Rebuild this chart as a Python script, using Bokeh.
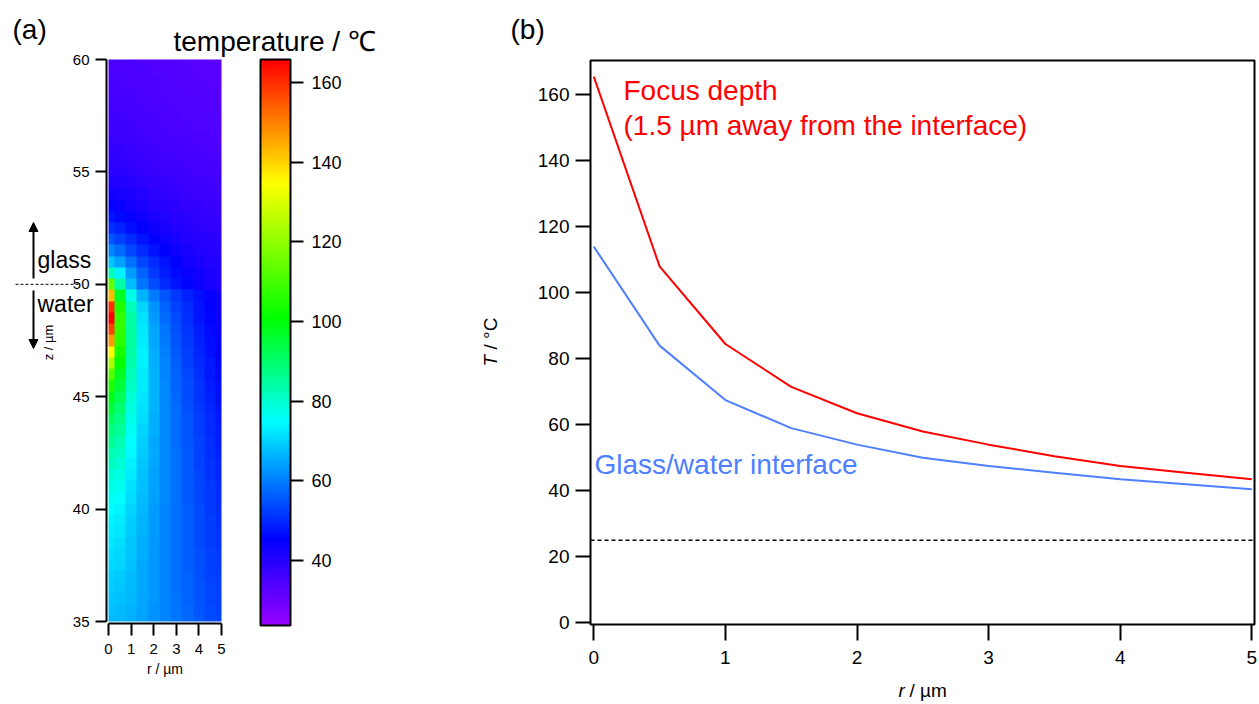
import colorsys
import math
import numpy as np
from bokeh.plotting import figure
from bokeh.models import (LinearColorMapper, FixedTicker, Label, Arrow, NormalHead,
                          Range1d, LinearAxis)
from bokeh.layouts import row
from bokeh.embed import file_html
from bokeh.resources import INLINE

FONT = "Liberation Sans"

# ---------------- data ----------------
# heat map: cell centres
r_um = [0.0, 0.5, 1.0, 1.5, 2.0, 2.5, 3.0, 3.5, 4.0, 4.5, 5.0]
z_um = [60.0, 59.5, 59.0, 58.5, 58.0, 57.5, 57.0, 56.5, 56.0, 55.5, 55.0,
        54.5, 54.0, 53.5, 53.0, 52.5, 52.0, 51.5, 51.0, 50.5, 50.0,
        49.5, 49.0, 48.5, 48.0, 47.5, 47.0, 46.5, 46.0, 45.5, 45.0,
        44.5, 44.0, 43.5, 43.0, 42.5, 42.0, 41.5, 41.0, 40.5, 40.0,
        39.5, 39.0, 38.5, 38.0, 37.5, 37.0, 36.5, 36.0, 35.5, 35.0]
# temperature (deg C), one row per z (top row z = 60), one column per r
temperature_map = [
    [34.5, 34.5, 34.5, 34.0, 34.0, 33.5, 33.5, 33.0, 33.0, 32.5, 32.5],
    [34.7, 34.7, 34.6, 34.3, 34.1, 33.8, 33.6, 33.3, 33.1, 32.8, 32.6],
    [35.0, 35.0, 34.8, 34.5, 34.3, 34.0, 33.8, 33.5, 33.3, 33.0, 32.8],
    [35.3, 35.2, 35.0, 34.8, 34.5, 34.2, 34.0, 33.7, 33.5, 33.2, 33.0],
    [35.7, 35.6, 35.4, 35.1, 34.8, 34.5, 34.2, 33.9, 33.7, 33.4, 33.2],
    [36.1, 36.0, 35.8, 35.5, 35.2, 34.8, 34.5, 34.2, 33.9, 33.7, 33.5],
    [36.6, 36.5, 36.2, 35.9, 35.5, 35.1, 34.8, 34.5, 34.2, 34.0, 33.8],
    [37.2, 37.0, 36.7, 36.3, 35.9, 35.5, 35.2, 34.9, 34.6, 34.4, 34.2],
    [37.9, 37.7, 37.3, 36.8, 36.3, 35.9, 35.6, 35.3, 35.0, 34.8, 34.6],
    [38.7, 38.5, 38.0, 37.4, 36.9, 36.4, 36.1, 35.7, 35.4, 35.2, 35.0],
    [39.7, 39.4, 38.8, 38.1, 37.5, 37.0, 36.6, 36.2, 35.9, 35.6, 35.4],
    [41.0, 40.6, 39.8, 39.0, 38.3, 37.7, 37.2, 36.8, 36.4, 36.1, 35.9],
    [42.6, 42.0, 41.0, 40.0, 39.2, 38.5, 37.9, 37.4, 37.0, 36.7, 36.4],
    [44.6, 43.8, 42.5, 41.3, 40.3, 39.4, 38.7, 38.1, 37.6, 37.3, 37.0],
    [47.2, 46.1, 44.4, 42.9, 41.6, 40.5, 39.6, 38.9, 38.3, 37.9, 37.6],
    [50.5, 49.0, 46.8, 44.9, 43.2, 41.8, 40.7, 39.8, 39.1, 38.6, 38.2],
    [54.8, 52.8, 49.8, 47.3, 45.1, 43.3, 41.9, 40.8, 39.9, 39.3, 38.8],
    [60.5, 57.6, 53.5, 50.2, 47.4, 45.1, 43.3, 41.9, 40.8, 40.0, 39.4],
    [68.5, 64.0, 58.2, 53.6, 50.0, 47.2, 44.9, 43.1, 41.8, 40.8, 40.0],
    [82.0, 73.5, 63.5, 56.8, 52.0, 48.6, 46.1, 44.2, 42.6, 41.4, 40.3],
    [114.0, 84.0, 67.5, 59.0, 54.0, 50.0, 47.5, 45.5, 43.5, 42.0, 40.5],
    [143.0, 97.0, 77.0, 66.0, 59.5, 55.0, 51.5, 48.8, 46.5, 44.6, 42.8],
    [160.0, 105.0, 82.5, 70.0, 62.5, 57.0, 53.0, 49.8, 47.2, 45.2, 43.3],
    [165.5, 108.0, 84.5, 71.5, 63.5, 58.0, 54.0, 50.5, 47.5, 45.5, 43.5],
    [158.0, 108.0, 85.0, 72.5, 64.3, 58.8, 54.6, 51.2, 48.2, 46.0, 44.0],
    [147.0, 106.5, 85.0, 73.0, 65.0, 59.5, 55.3, 51.8, 48.9, 46.5, 44.5],
    [135.0, 104.0, 84.5, 73.3, 65.5, 60.0, 55.8, 52.4, 49.5, 47.0, 45.0],
    [124.0, 101.0, 83.5, 73.3, 65.8, 60.4, 56.3, 52.9, 50.0, 47.6, 45.5],
    [113.0, 98.0, 82.3, 73.0, 66.0, 60.7, 56.7, 53.3, 50.5, 48.0, 46.0],
    [105.0, 95.0, 81.0, 72.6, 66.0, 61.0, 57.0, 53.8, 51.0, 48.5, 46.5],
    [99.0, 92.0, 79.7, 72.0, 66.0, 61.2, 57.4, 54.2, 51.4, 49.0, 47.0],
    [95.0, 89.5, 78.5, 71.5, 65.9, 61.3, 57.6, 54.5, 51.8, 49.4, 47.4],
    [91.5, 87.0, 77.3, 70.9, 65.7, 61.4, 57.8, 54.8, 52.2, 49.8, 47.8],
    [88.5, 85.0, 76.2, 70.3, 65.4, 61.4, 58.0, 55.0, 52.5, 50.2, 48.2],
    [86.0, 83.0, 75.2, 69.7, 65.1, 61.4, 58.1, 55.2, 52.7, 50.5, 48.6],
    [83.5, 81.0, 74.3, 69.1, 64.8, 61.3, 58.2, 55.4, 52.9, 50.8, 49.0],
    [81.5, 79.5, 73.4, 68.6, 64.5, 61.2, 58.2, 55.5, 53.1, 51.1, 49.3],
    [79.5, 78.0, 72.6, 68.1, 64.2, 61.1, 58.2, 55.6, 53.3, 51.3, 49.6],
    [78.0, 76.5, 71.8, 67.6, 63.9, 61.0, 58.2, 55.7, 53.5, 51.5, 49.9],
    [76.5, 75.3, 71.0, 67.1, 63.7, 60.9, 58.2, 55.8, 53.6, 51.7, 50.2],
    [75.0, 74.0, 70.3, 66.7, 63.5, 60.8, 58.2, 55.9, 53.8, 51.9, 50.5],
    [74.0, 73.0, 69.7, 66.3, 63.3, 60.7, 58.2, 56.0, 53.9, 52.1, 50.8],
    [73.0, 72.0, 69.1, 66.0, 63.2, 60.6, 58.2, 56.0, 54.0, 52.3, 51.0],
    [72.0, 71.2, 68.6, 65.7, 63.1, 60.6, 58.2, 56.1, 54.2, 52.5, 51.3],
    [71.2, 70.5, 68.2, 65.4, 63.0, 60.6, 58.3, 56.2, 54.3, 52.7, 51.6],
    [70.4, 69.8, 67.8, 65.2, 62.9, 60.6, 58.4, 56.3, 54.5, 52.9, 51.9],
    [69.7, 69.2, 67.4, 65.0, 62.8, 60.6, 58.5, 56.5, 54.7, 53.1, 52.2],
    [69.0, 68.6, 67.0, 64.8, 62.7, 60.6, 58.6, 56.7, 54.9, 53.3, 52.5],
    [68.4, 68.0, 66.6, 64.6, 62.6, 60.6, 58.7, 56.9, 55.1, 53.5, 52.8],
    [67.8, 67.4, 66.2, 64.4, 62.5, 60.6, 58.8, 57.1, 55.3, 53.8, 53.1],
    [67.2, 66.8, 65.8, 64.2, 62.4, 60.6, 58.9, 57.3, 55.5, 54.0, 53.4],
]
z_ticks = [35, 40, 45, 50, 55, 60]
r_ticks_a = [0, 1, 2, 3, 4, 5]
cb_ticks = [40, 60, 80, 100, 120, 140, 160]
T_low, T_high = 23.7, 165.8
interface_z = 50.0

# profiles (panel b)
r_profile = [0.0, 0.5, 1.0, 1.5, 2.0, 2.5, 3.0, 3.5, 4.0, 4.5, 5.0]
T_focus = [165.5, 108.0, 84.5, 71.5, 63.5, 58.0, 54.0, 50.5, 47.5, 45.5, 43.5]
T_interface = [114.0, 84.0, 67.5, 59.0, 54.0, 50.0, 47.5, 45.5, 43.5, 42.0, 40.5]
T_room = 25.0
T_ticks = [0, 20, 40, 60, 80, 100, 120, 140, 160]
r_ticks_b = [0, 1, 2, 3, 4, 5]

# ---------------- colour table (rainbow, red = hot) ----------------
hue_T = [T_low, 45.0, 75.0, 101.0, 135.0, T_high]
hue_deg = [275.0, 240.0, 180.0, 120.0, 60.0, 0.0]
palette = []
for i in range(256):
    t = T_low + (T_high - T_low) * i / 255.0
    h = float(np.interp(t, hue_T, hue_deg)) / 360.0
    rr, gg, bb = colorsys.hsv_to_rgb(h, 1.0, 1.0)
    palette.append("#%02x%02x%02x" % (round(rr * 255), round(gg * 255), round(bb * 255)))
mapper = LinearColorMapper(palette=palette, low=T_low, high=T_high)


def style_axis(ax, size):
    ax.axis_line_width = 2
    ax.axis_line_color = "black"
    ax.major_tick_line_width = 2
    ax.major_tick_line_color = "black"
    ax.major_tick_in = 0
    ax.minor_tick_line_color = None
    ax.major_label_text_font = FONT
    ax.major_label_text_font_size = size
    ax.major_label_text_color = "black"


def text(p, x, y, s, size, color="black", **kw):
    p.add_layout(Label(x=x, y=y, text=s, text_font=FONT, text_font_size=size,
                       text_color=color, text_baseline=kw.pop("baseline", "middle"),
                       text_align=kw.pop("align", "left"), **kw))


# ---------------- panel (a) ----------------
WA, H = 470, 704
FL, FT, FW, FH = 108, 59, 113, 562   # pixel box of the heat map
r0, r1 = min(r_ticks_a), max(r_ticks_a)
z0, z1 = min(z_ticks), max(z_ticks)


def ax_(px):
    return r0 + (px - FL) / FW * (r1 - r0)


def ay_(py):
    return z1 - (py - FT) / FH * (z1 - z0)


pa = figure(width=WA, height=H, x_range=Range1d(ax_(0), ax_(WA)),
            y_range=Range1d(ay_(H), ay_(0)),
            output_backend="svg", toolbar_location=None,
            x_axis_location=None, y_axis_location=None,
            min_border_left=0, min_border_right=0, min_border_top=0, min_border_bottom=0)
pa.outline_line_color = None
pa.grid.visible = False
pa.background_fill_color = "white"

# heat map (cells centred on the r/z grid, cut at the plot edges like the original)
arr = np.array(temperature_map)[::-1]          # bottom row first
up = 12
half = up // 2
arr_up = np.repeat(np.repeat(arr, up, axis=0), up, axis=1)[half:-half, half:-half]
pa.image(image=[arr_up], x=min(r_um), y=min(z_um), dw=max(r_um) - min(r_um),
         dh=max(z_um) - min(z_um), color_mapper=mapper)

ya = LinearAxis(fixed_location=ax_(106), bounds=(z0, z1), ticker=FixedTicker(ticks=z_ticks))
style_axis(ya, "15px")
ya.major_tick_out = 11
ya.major_label_standoff = 6
pa.add_layout(ya, "left")
xa = LinearAxis(fixed_location=ay_(623), bounds=(r0, r1), ticker=FixedTicker(ticks=r_ticks_a))
style_axis(xa, "15px")
xa.major_tick_out = 12
xa.major_label_standoff = 8
pa.add_layout(xa, "below")
text(pa, ax_(164.5), ay_(668), "r / µm", "14px", align="center")
text(pa, ax_(48), ay_(342), "z / µm", "13px", align="center", angle=math.pi / 2)

# colour bar drawn in its own value range
CB_L, CB_R, CB_T, CB_B = 260, 290, 59, 625
kcb = (T_high - T_low) / (CB_B - CB_T)
pa.extra_y_ranges = {"cb": Range1d(T_low - (H - CB_B) * kcb, T_high + CB_T * kcb)}
grad = np.repeat(np.linspace(T_low, T_high, 566).reshape(-1, 1), 30, axis=1)
pa.image(image=[grad], x=ax_(CB_L), y=T_low, dw=ax_(CB_R) - ax_(CB_L), dh=T_high - T_low,
         color_mapper=mapper, y_range_name="cb")
pa.quad(left=[ax_(CB_L)], right=[ax_(CB_R)], bottom=[T_low], top=[T_high],
        fill_color=None, line_color="black", line_width=2, y_range_name="cb")
cba = LinearAxis(y_range_name="cb", fixed_location=ax_(CB_R), bounds=(T_low, T_high),
                 ticker=FixedTicker(ticks=cb_ticks))
style_axis(cba, "18px")
cba.axis_line_color = None
cba.major_tick_out = 13
cba.major_label_standoff = 8
pa.add_layout(cba, "right")

text(pa, ax_(12), ay_(29), "(a)", "28px")
text(pa, ax_(173), ay_(41), "temperature / \u2103", "28px")
text(pa, ax_(37), ay_(259), "glass", "23px")
text(pa, ax_(37), ay_(303), "water", "23px")
pa.add_layout(Arrow(end=NormalHead(size=9, fill_color="black", line_color="black"),
                    x_start=ax_(33), y_start=ay_(278), x_end=ax_(33), y_end=ay_(222),
                    line_width=2, line_color="black"))
pa.add_layout(Arrow(end=NormalHead(size=9, fill_color="black", line_color="black"),
                    x_start=ax_(33), y_start=ay_(290), x_end=ax_(33), y_end=ay_(348),
                    line_width=2, line_color="black"))
pa.line([ax_(15), ax_(79)], [interface_z, interface_z], line_width=1,
        line_color="black", line_dash="3 2")

# ---------------- panel (b) ----------------
WB = 1259 - WA
BL, BT, BR, BB = 590, 60, 1254, 624     # page pixel box of the plot area
xb0, xb1 = -0.025, 5.02
yb0, yb1 = -0.5, 170.4


def bx(px):
    return xb0 + (px - BL) / (BR - BL) * (xb1 - xb0)


def by(py):
    return yb1 - (py - BT) / (BB - BT) * (yb1 - yb0)


pb = figure(width=WB, height=H, x_range=Range1d(bx(WA), bx(1259)),
            y_range=Range1d(by(H), by(0)),
            output_backend="svg", toolbar_location=None,
            x_axis_location=None, y_axis_location=None,
            min_border_left=0, min_border_right=0, min_border_top=0, min_border_bottom=0)
pb.grid.visible = False
pb.outline_line_color = None
pb.background_fill_color = "white"

pb.line(r_profile, T_focus, line_color="#ff0000", line_width=2)
pb.line(r_profile, T_interface, line_color="#4d7fff", line_width=2)
pb.line([xb0, xb1], [T_room, T_room], line_color="black", line_width=1.5, line_dash="4 3")
pb.quad(left=[xb0], right=[xb1], bottom=[yb0], top=[yb1], fill_color=None,
        line_color="black", line_width=2)

yb = LinearAxis(fixed_location=xb0, ticker=FixedTicker(ticks=T_ticks))
style_axis(yb, "19px")
yb.axis_line_color = None
yb.major_tick_out = 15
yb.major_label_standoff = 6
pb.add_layout(yb, "left")
xbx = LinearAxis(fixed_location=yb0, ticker=FixedTicker(ticks=r_ticks_b))
style_axis(xbx, "19px")
xbx.axis_line_color = None
xbx.major_tick_out = 16
xbx.major_label_standoff = 10
pb.add_layout(xbx, "below")

# axis titles with italic symbols
text(pb, bx(490), by(366), "T", "19px", angle=math.pi / 2, text_font_style="italic")
text(pb, bx(490), by(349), "/ °C", "19px", angle=math.pi / 2)
text(pb, bx(898), by(690), "r", "19px", text_font_style="italic")
text(pb, bx(909), by(690), "/ µm", "19px")

text(pb, bx(510), by(29), "(b)", "28px")
text(pb, bx(623), by(90), "Focus depth", "28px", color="#ff0000")
text(pb, bx(623), by(125), "(1.5 µm away from the interface)", "28px", color="#ff0000")
text(pb, bx(594), by(464), "Glass/water interface", "28px", color="#4d7fff")

layout = row(pa, pb, spacing=0)
open("out.html", "w").write(file_html(layout, INLINE))
